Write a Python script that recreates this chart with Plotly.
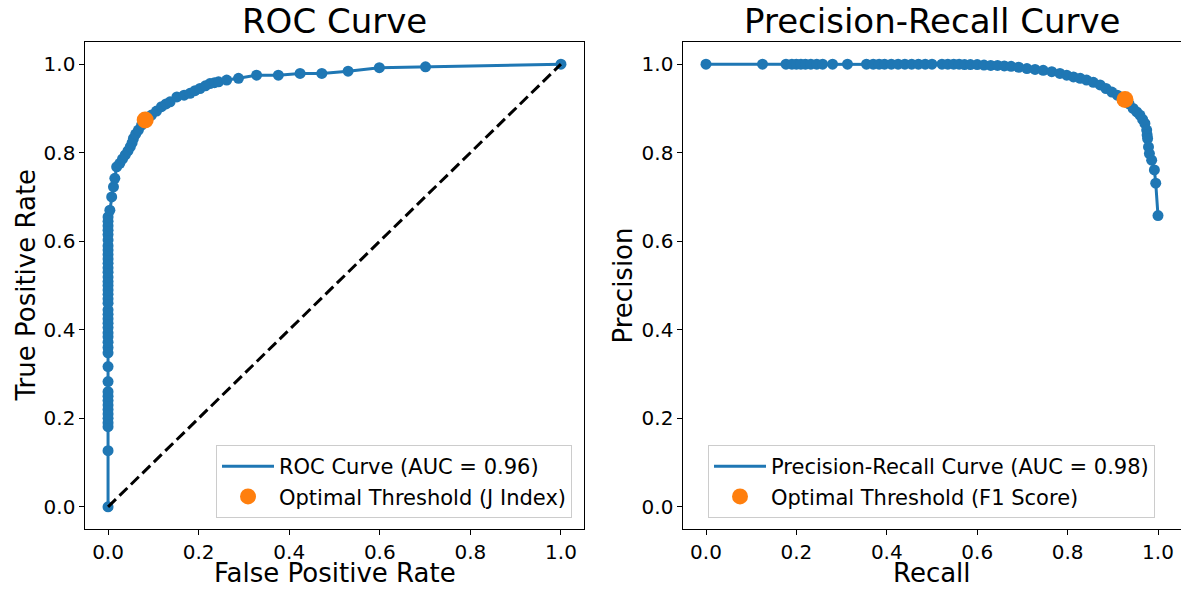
import plotly.graph_objects as go

# ---------------- data ----------------
roc_fpr = [0.0, 0.0, 0.0, 0.0, 0.0, 0.0, 0.0, 0.0, 0.0, 0.0, 0.0, 0.0, 0.0, 0.0,
           0.0, 0.0, 0.0, 0.0, 0.0, 0.0, 0.0, 0.0, 0.0, 0.0, 0.0, 0.0, 0.0, 0.0,
           0.0, 0.0, 0.0, 0.0, 0.0, 0.0, 0.0, 0.0, 0.0, 0.0, 0.0, 0.0, 0.0, 0.0,
           0.0, 0.004, 0.008, 0.012, 0.015, 0.019, 0.026, 0.032, 0.038, 0.044,
           0.049, 0.053, 0.056, 0.061, 0.067, 0.074, 0.082, 0.088, 0.096, 0.107,
           0.118, 0.128, 0.137, 0.152, 0.168, 0.181, 0.192, 0.203, 0.215, 0.225,
           0.235, 0.244, 0.262, 0.288, 0.328, 0.376, 0.424, 0.472, 0.530, 0.599,
           0.701, 1.0]
roc_tpr = [0.0, 0.127, 0.181, 0.19, 0.2, 0.21, 0.22, 0.23, 0.24, 0.25, 0.26, 0.283,
           0.317, 0.348, 0.36, 0.372, 0.384, 0.393, 0.405, 0.415, 0.425, 0.435,
           0.445, 0.46, 0.47, 0.48, 0.49, 0.5, 0.509, 0.519, 0.53, 0.54, 0.55,
           0.56, 0.57, 0.58, 0.59, 0.603, 0.615, 0.625, 0.635, 0.645, 0.655,
           0.670, 0.700, 0.723, 0.742, 0.768, 0.776, 0.786, 0.795, 0.804, 0.813,
           0.822, 0.832, 0.842, 0.851, 0.862, 0.874, 0.878, 0.885, 0.894, 0.904,
           0.910, 0.915, 0.926, 0.930, 0.934, 0.940, 0.945, 0.951, 0.956, 0.958,
           0.960, 0.964, 0.968, 0.975, 0.975, 0.979, 0.979, 0.984, 0.992, 0.994,
           1.0]
roc_auc_label = "ROC Curve (AUC = 0.96)"
roc_opt_fpr = [0.082]
roc_opt_tpr = [0.874]
roc_opt_label = "Optimal Threshold (J Index)"
chance_x = [0.0, 1.0]
chance_y = [0.0, 1.0]

pr_recall = [0.0, 0.125, 0.177, 0.19, 0.2, 0.21, 0.22, 0.232, 0.245, 0.258, 0.28,
             0.313, 0.355, 0.37, 0.383, 0.395, 0.41, 0.425, 0.44, 0.455, 0.47,
             0.485, 0.5, 0.522, 0.535, 0.548, 0.56, 0.572, 0.585, 0.6, 0.615,
             0.63, 0.645, 0.66, 0.675, 0.692, 0.71, 0.728, 0.746, 0.765, 0.783,
             0.798, 0.813, 0.828, 0.842, 0.857, 0.872, 0.885, 0.898, 0.91, 0.919,
             0.927, 0.936, 0.945, 0.953, 0.96, 0.966, 0.971, 0.975, 0.976, 0.977,
             0.979, 0.981, 0.986, 0.992, 0.995, 1.0]
pr_precision = [1.0, 1.0, 1.0, 1.0, 1.0, 1.0, 1.0, 1.0, 1.0, 1.0, 1.0,
                1.0, 1.0, 1.0, 1.0, 1.0, 1.0, 1.0, 1.0, 1.0, 1.0,
                1.0, 1.0, 1.0, 1.0, 1.0, 1.0, 0.999, 0.999, 0.999, 0.998,
                0.997, 0.997, 0.996, 0.995, 0.993, 0.990, 0.988, 0.986, 0.983, 0.979,
                0.975, 0.971, 0.968, 0.964, 0.959, 0.953, 0.945, 0.937, 0.930, 0.925,
                0.920, 0.910, 0.900, 0.892, 0.885, 0.875, 0.866, 0.851, 0.840, 0.832,
                0.813, 0.798, 0.783, 0.761, 0.731, 0.658]
pr_auc_label = "Precision-Recall Curve (AUC = 0.98)"
pr_opt_recall = [0.927]
pr_opt_precision = [0.920]
pr_opt_label = "Optimal Threshold (F1 Score)"

tick_vals = [0.0, 0.2, 0.4, 0.6, 0.8, 1.0]
tick_text = ["0.0", "0.2", "0.4", "0.6", "0.8", "1.0"]

# ---------------- styling ----------------
W, H = 1181, 589
BLUE = "#1f77b4"
ORANGE = "#ff7f0e"
FONT = "DejaVu Sans"

def px_x(p):
    return p / W

def px_y(p):
    return (H - p) / H

fig = go.Figure()

# ROC panel
fig.add_trace(go.Scatter(x=roc_fpr, y=roc_tpr, mode="lines",
                         line=dict(color=BLUE, width=3),
                         name=roc_auc_label, legend="legend",
                         xaxis="x", yaxis="y"))
fig.add_trace(go.Scatter(x=roc_fpr, y=roc_tpr, mode="markers",
                         marker=dict(color=BLUE, size=11, line=dict(width=0)),
                         showlegend=False, xaxis="x", yaxis="y"))
fig.add_trace(go.Scatter(x=chance_x, y=chance_y, mode="lines",
                         line=dict(color="black", width=3, dash="11px,5px"),
                         showlegend=False, xaxis="x", yaxis="y"))
fig.add_trace(go.Scatter(x=roc_opt_fpr, y=roc_opt_tpr, mode="markers",
                         marker=dict(color=ORANGE, size=17, line=dict(width=0)),
                         name=roc_opt_label, legend="legend",
                         xaxis="x", yaxis="y"))

# PR panel
fig.add_trace(go.Scatter(x=pr_recall, y=pr_precision, mode="lines",
                         line=dict(color=BLUE, width=3),
                         name=pr_auc_label, legend="legend2",
                         xaxis="x2", yaxis="y2"))
fig.add_trace(go.Scatter(x=pr_recall, y=pr_precision, mode="markers",
                         marker=dict(color=BLUE, size=11, line=dict(width=0)),
                         showlegend=False, xaxis="x2", yaxis="y2"))
fig.add_trace(go.Scatter(x=pr_opt_recall, y=pr_opt_precision, mode="markers",
                         marker=dict(color=ORANGE, size=17, line=dict(width=0)),
                         name=pr_opt_label, legend="legend2",
                         xaxis="x2", yaxis="y2"))

left_dom = [px_x(85.4), px_x(583.6)]
right_dom = [px_x(683.4), px_x(1180.6)]
y_dom = [px_y(529), px_y(42)]

axis_common = dict(range=[-0.05, 1.05], tickvals=tick_vals, ticktext=tick_text,
                   ticks="outside", ticklen=5, tickwidth=1, tickcolor="black",
                   showline=True, mirror=True, linecolor="black", linewidth=1,
                   showgrid=False, zeroline=False, automargin=False,
                   tickfont=dict(family=FONT, size=20, color="black"))

legend_common = dict(font=dict(family=FONT, size=21, color="black"),
                     bgcolor="rgba(255,255,255,0.8)", bordercolor="#cccccc",
                     borderwidth=1, xanchor="right", yanchor="bottom",
                     traceorder="normal", itemwidth=52)

fig.update_layout(
    width=W, height=H,
    margin=dict(l=0, r=0, t=0, b=0, autoexpand=False),
    paper_bgcolor="white", plot_bgcolor="white",
    font=dict(family=FONT, color="black"),
    xaxis=dict(domain=left_dom, anchor="y", **axis_common),
    yaxis=dict(domain=y_dom, anchor="x", **axis_common),
    xaxis2=dict(domain=right_dom, anchor="y2", **axis_common),
    yaxis2=dict(domain=y_dom, anchor="x2", **axis_common),
    legend=dict(x=px_x(572), y=px_y(518), **legend_common),
    legend2=dict(x=px_x(1155), y=px_y(518), **legend_common),
    annotations=[
        dict(text="ROC Curve", x=px_x(334.5), y=px_y(21), xref="paper", yref="paper",
             xanchor="center", yanchor="middle", showarrow=False,
             font=dict(family=FONT, size=34, color="black")),
        dict(text="Precision-Recall Curve", x=px_x(932), y=px_y(21), xref="paper",
             yref="paper", xanchor="center", yanchor="middle", showarrow=False,
             font=dict(family=FONT, size=34, color="black")),
        dict(text="False Positive Rate", x=px_x(334.5), y=px_y(573), xref="paper",
             yref="paper", xanchor="center", yanchor="middle", showarrow=False,
             font=dict(family=FONT, size=26, color="black")),
        dict(text="Recall", x=px_x(932), y=px_y(573), xref="paper",
             yref="paper", xanchor="center", yanchor="middle", showarrow=False,
             font=dict(family=FONT, size=26, color="black")),
        dict(text="True Positive Rate", x=px_x(25), y=px_y(285.5), xref="paper",
             yref="paper", xanchor="center", yanchor="middle", showarrow=False,
             textangle=-90, font=dict(family=FONT, size=26, color="black")),
        dict(text="Precision", x=px_x(622), y=px_y(285.5), xref="paper",
             yref="paper", xanchor="center", yanchor="middle", showarrow=False,
             textangle=-90, font=dict(family=FONT, size=26, color="black")),
    ],
)

fig.write_html("out.html",
               config={"displayModeBar": False},
               post_script="document.body.style.margin='0px';"
                           "document.body.style.overflow='hidden';")
